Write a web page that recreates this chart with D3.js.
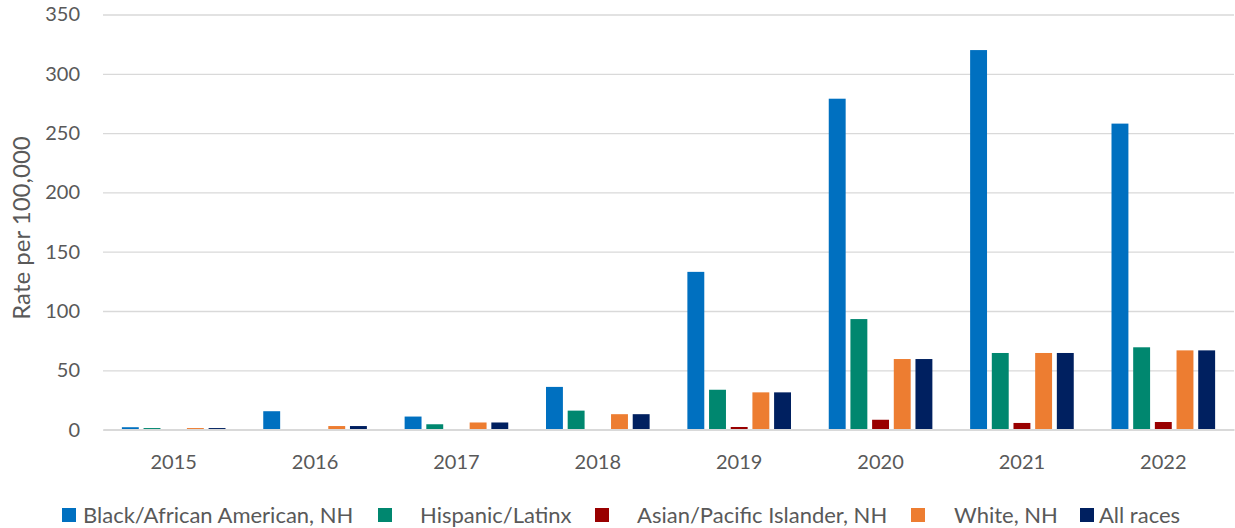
<!DOCTYPE html>
<html><head><meta charset="utf-8">
<script src="https://cdn.jsdelivr.net/npm/d3@7"></script>
<style>body{margin:0;background:#fff}text{font-family:Lato,"Liberation Sans",sans-serif;fill:#595959}</style>
</head><body><svg id="c" width="1235" height="528"></svg>
<script>
const years = ["2015","2016","2017","2018","2019","2020","2021","2022"];
const seriesNames = ["Black/African American, NH","Hispanic/Latinx","Asian/Pacific Islander, NH","White, NH","All races"];
const black    = [2, 15.5, 11, 36, 133, 279, 320, 258];
const hispanic = [1.3, 0.3, 4.5, 16, 33.6, 93.2, 64.6, 69.4];
const asian    = [0.3, 0, 0.3, 0.5, 2.2, 8.3, 5.6, 6.4];
const white    = [1.3, 3, 6, 13, 31.4, 59.5, 64.6, 66.8];
const allRaces = [1.3, 3, 6, 13, 31.4, 59.5, 64.6, 66.8];
const yTicks = [0,50,100,150,200,250,300,350];
const colors = ["#0070C0","#00876F","#990000","#ED7D31","#002060"];
const seriesVals = [black, hispanic, asian, white, allRaces];

const svg = d3.select("#c");
const mLeft = 103, mRight = 1234, mTop = 14.5, mBottom = 429.6;
const x0 = d3.scaleBand().domain(years).range([mLeft,mRight]).paddingInner(0.267).paddingOuter(0.1335);
const x1 = d3.scaleBand().domain(d3.range(5)).range([0,x0.bandwidth()]).paddingInner(0.22).paddingOuter(0);
const y = d3.scaleLinear().domain([0,350]).range([mBottom,mTop]);

// gridlines
const yAxis = d3.axisLeft(y).tickValues(yTicks).tickSize(-(mRight-mLeft)).tickPadding(23);
const gy = svg.append("g").attr("transform",`translate(${mLeft},0)`).call(yAxis);
gy.select(".domain").remove();
gy.selectAll(".tick line").attr("stroke","#d9d9d9").attr("stroke-width",1.3);
gy.selectAll(".tick text").attr("font-size",20).style("fill","#595959");

// bars
const g = svg.append("g");
years.forEach((yr,i)=>{
  seriesVals.forEach((vals,s)=>{
    g.append("rect")
      .attr("x", x0(yr)+x1(s))
      .attr("width", x1.bandwidth())
      .attr("y", y(vals[i]))
      .attr("height", mBottom - y(vals[i]))
      .attr("fill", colors[s]);
  });
});

// x axis
const xAxis = d3.axisBottom(x0).tickSize(0).tickPadding(25);
const gx = svg.append("g").attr("transform",`translate(0,${mBottom})`).call(xAxis);
gx.select(".domain").attr("stroke","#d9d9d9").attr("stroke-width",2);
gx.selectAll(".tick text").attr("font-size",20).style("fill","#595959");

// y title
svg.append("text").attr("transform","translate(29.5,228) rotate(-90)")
  .attr("text-anchor","middle").attr("font-size",24).text("Rate per 100,000");

// legend
const sqX = [62,378,595,911,1080];
const txX = [83,420,637,954,1099];
const lg = svg.append("g");
seriesNames.forEach((n,i)=>{
  lg.append("rect").attr("x",sqX[i]).attr("y",508).attr("width",14).attr("height",14).attr("fill",colors[i]);
  lg.append("text").attr("x",txX[i]).attr("y",523).attr("font-size",22).text(n);
});
</script></body></html>
